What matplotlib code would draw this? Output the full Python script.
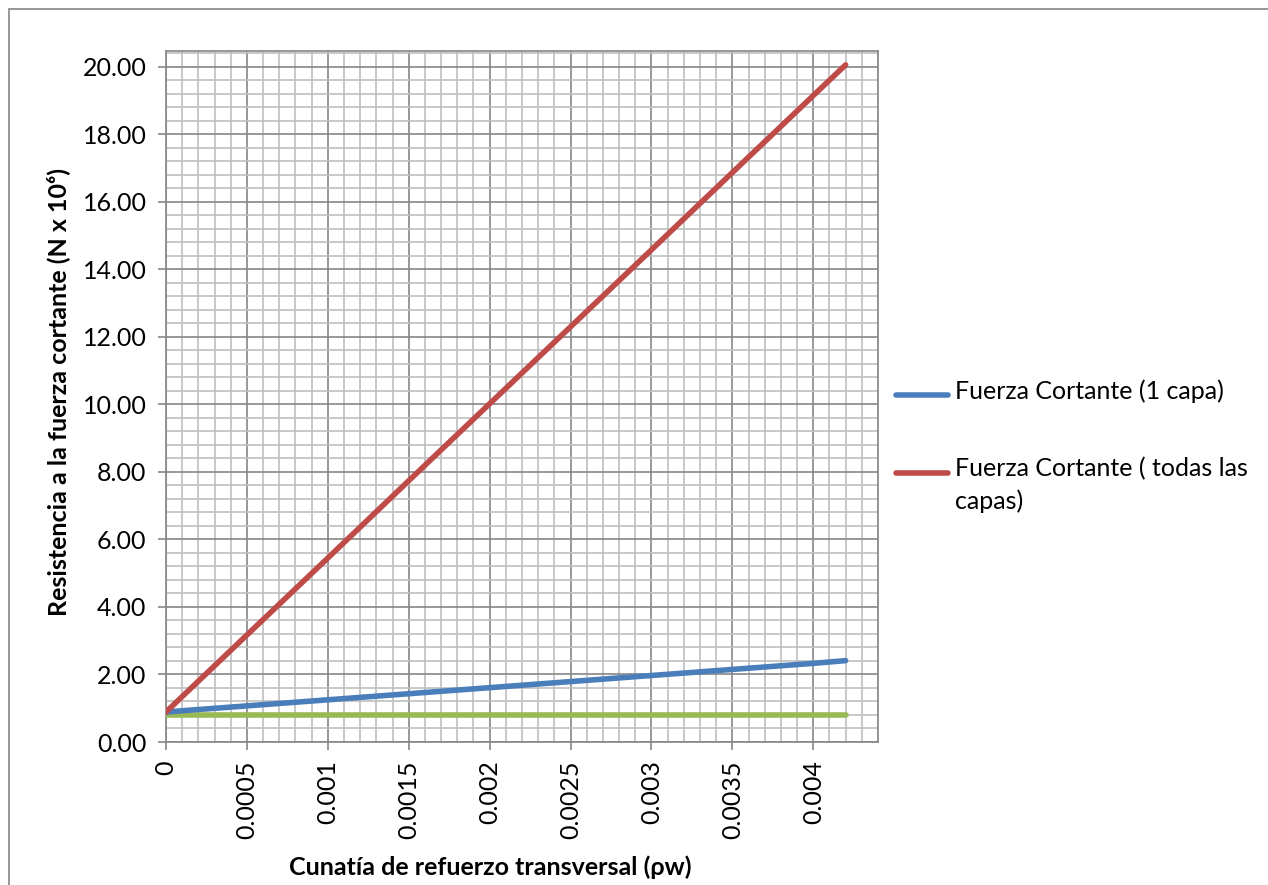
import numpy as np
import matplotlib.pyplot as plt
from matplotlib.ticker import MultipleLocator, FormatStrFormatter
from matplotlib.patches import Rectangle
from matplotlib.lines import Line2D

plt.rcParams['font.family'] = ['Lato', 'DejaVu Sans']

# cuantía de refuerzo transversal (rho_w)
rho_w = [0, 0.0005, 0.001, 0.0015, 0.002, 0.0025, 0.003, 0.0035, 0.004, 0.0042]
# resistencia a la fuerza cortante (N x 10^6)
v_una_capa = [0.89, 1.07, 1.25, 1.43, 1.61, 1.79, 1.97, 2.15, 2.33, 2.41]
v_todas = [0.89, 3.17, 5.45, 7.74, 10.02, 12.30, 14.58, 16.87, 19.15, 20.06]
v_base = [0.81, 0.81, 0.81, 0.81, 0.81, 0.81, 0.81, 0.81, 0.81, 0.81]

x_ticks = [0, 0.0005, 0.001, 0.0015, 0.002, 0.0025, 0.003, 0.0035, 0.004]
x_tick_labels = ["0", "0.0005", "0.001", "0.0015", "0.002", "0.0025", "0.003", "0.0035", "0.004"]

series_names = ["Fuerza Cortante (1 capa)", "Fuerza Cortante ( todas las\ncapas)"]
colors = ["#4A7EBB", "#BE4B48", "#98B954"]

W, H = 1268, 885
FS = 18
LW = 4
fig = plt.figure(figsize=(W / 100, H / 100), dpi=100)
ax = fig.add_axes([166 / W, 1 - 742 / H, (878 - 166) / W, (742 - 51) / H])

# outer chart frame
fig.patches.append(Rectangle((9 / W, -0.05), 1.2, 1 - 9 / H + 0.05, transform=fig.transFigure,
                             fill=False, edgecolor="#868686", linewidth=1.2))

ax.plot(rho_w, v_una_capa, color=colors[0], linewidth=LW, solid_capstyle="round", zorder=4)
ax.plot(rho_w, v_todas, color=colors[1], linewidth=LW, solid_capstyle="round", zorder=4)
ax.plot(rho_w, v_base, color=colors[2], linewidth=LW, solid_capstyle="round", zorder=3)

ax.set_xlim(0, 0.0044)
ax.set_ylim(0, 20.47)
ax.set_xticks(x_ticks)
ax.set_xticklabels(x_tick_labels, rotation=90)
ax.xaxis.set_minor_locator(MultipleLocator(0.0001))
ax.yaxis.set_major_locator(MultipleLocator(2))
ax.yaxis.set_minor_locator(MultipleLocator(0.4))
ax.yaxis.set_major_formatter(FormatStrFormatter('%.2f'))

ax.grid(which="minor", color="#BFBFBF", linewidth=1.2)
ax.grid(which="major", color="#868686", linewidth=1.2)
ax.set_axisbelow(True)

for s in ax.spines.values():
    s.set_color("#868686")
    s.set_linewidth(1.2)
ax.tick_params(which="major", length=6, width=1.2, color="#868686", labelsize=FS,
               labelcolor="black", direction="out")
ax.tick_params(which="minor", length=0)
ax.tick_params(axis="x", pad=7)
ax.tick_params(axis="y", pad=8)

fig.text(490 / W, 1 - 867 / H, "Cunatía de refuerzo transversal (ρw)", ha="center", va="center",
         fontsize=FS, fontweight="bold")
fig.text(58 / W, 1 - 392 / H, "Resistencia a la fuerza cortante (N x 10⁶)", ha="center", va="center",
         rotation=90, fontsize=FS, fontweight="bold")

# legend (Excel-style: handle aligned with first line of label)
legend_y = [395, 473]
for name, col, ly in zip(series_names, colors, legend_y):
    fig.add_artist(Line2D([896 / W, 948 / W], [1 - ly / H, 1 - ly / H], color=col,
                          linewidth=LW, solid_capstyle="round", transform=fig.transFigure))
    fig.text(955 / W, 1 - (ly - 16) / H, name, ha="left", va="top", fontsize=FS,
             linespacing=1.45)

fig.savefig("out.png", dpi=100)
